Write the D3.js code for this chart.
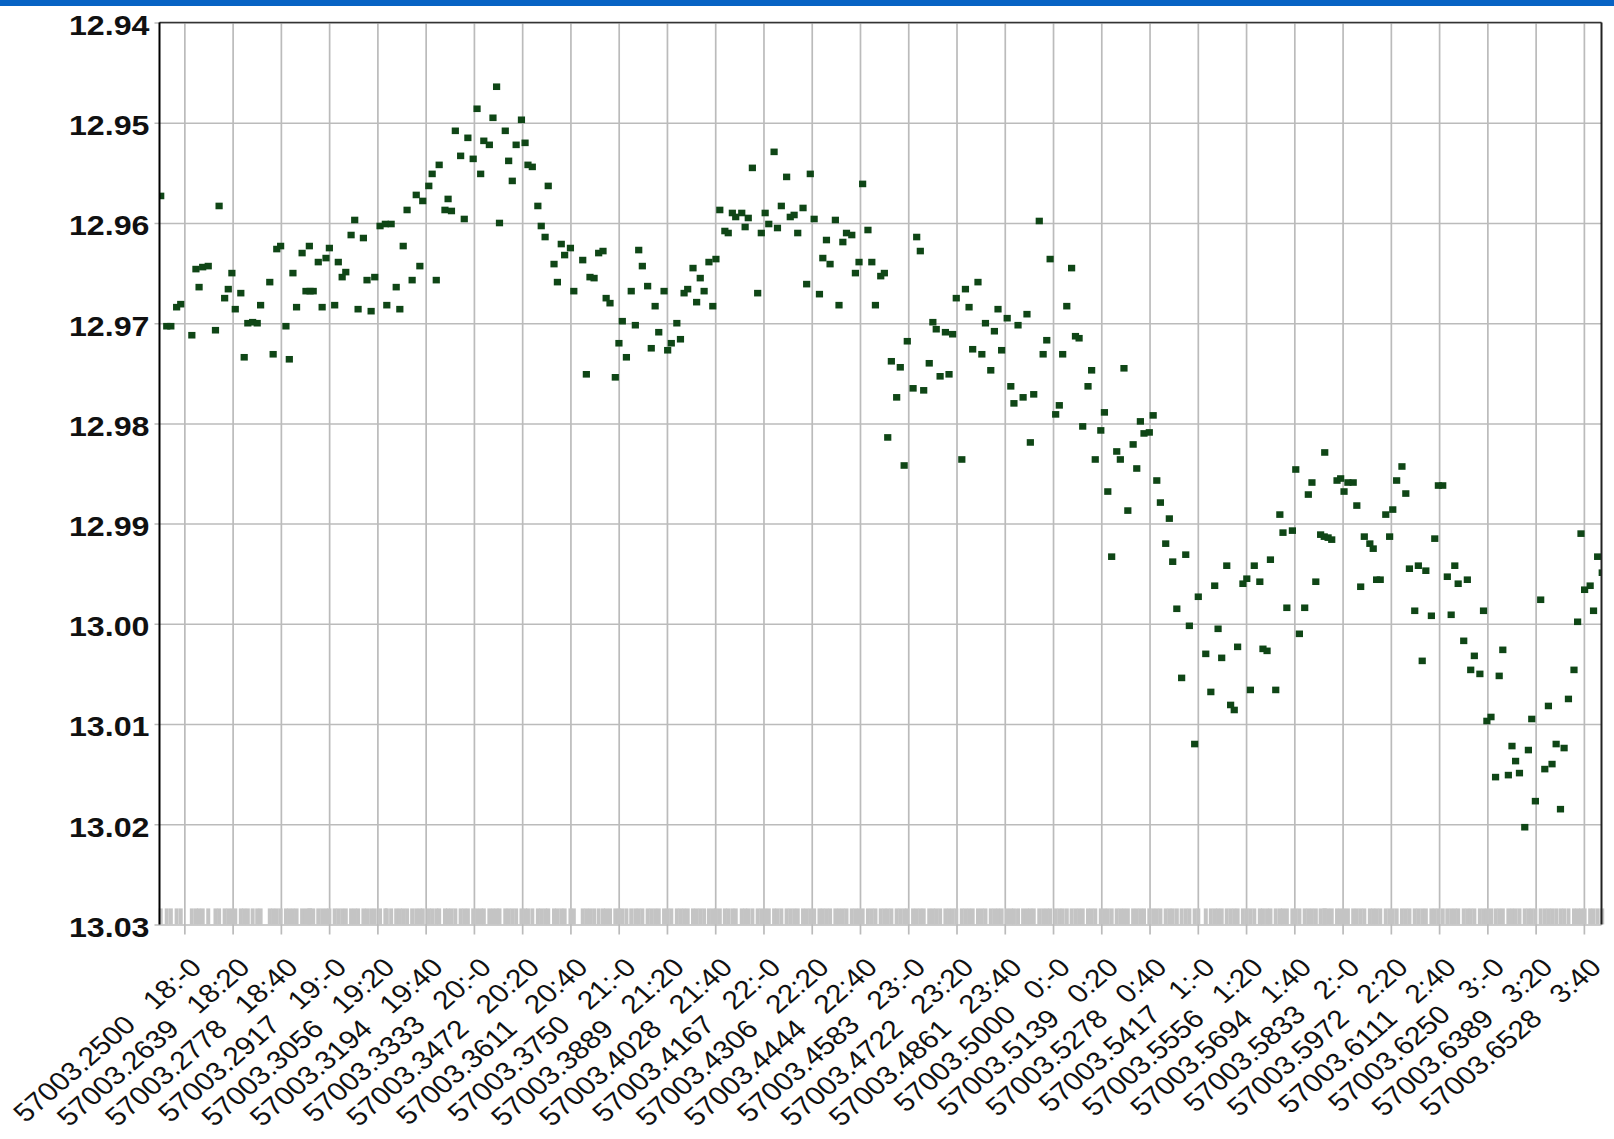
<!DOCTYPE html>
<html>
<head>
<meta charset="utf-8">
<script src="https://d3js.org/d3.v7.min.js"></script>
<style>
  html, body { margin: 0; padding: 0; background: #fff; }
  svg { display: block; }
  text { font-family: "Liberation Sans", Arial, sans-serif; fill: #111; }
</style>
</head>
<body>
<svg id="chart" width="1614" height="1139"></svg>
<script>
// time in minutes after 18:00 (MJD 57003.2500)
var tMin = [
  -9.8,-7.3,-5.6,-3.2,-1.5,3.1,4.8,6.1,7.6,9.9,
  12.9,14.4,16.7,18.2,19.7,21.1,23.4,24.8,26.3,28.3,
  30.2,31.6,35.4,36.8,38.3,39.9,42.1,43.5,45.0,46.5,
  48.8,50.4,51.8,52.1,53.4,55.5,57.1,58.7,60.1,62.3,
  63.8,65.4,66.9,69.1,70.6,72.0,74.2,75.7,77.4,78.9,
  81.1,83.3,83.9,85.7,87.8,89.3,90.7,92.3,94.4,96.1,
  97.6,98.8,101.3,102.7,104.4,105.6,108.0,109.3,110.7,112.3,
  114.5,116.0,117.5,119.7,121.3,122.8,124.1,126.4,127.9,129.4,
  130.6,133.0,134.4,135.9,137.5,139.7,141.2,142.4,144.2,146.5,
  147.9,149.5,150.8,153.2,154.6,156.2,157.6,160.0,161.4,165.1,
  166.6,168.1,169.8,171.7,173.5,174.8,176.4,178.6,180.1,181.5,
  183.2,185.2,186.9,188.3,189.8,192.0,193.5,195.1,196.6,198.8,
  200.3,201.8,204.1,205.6,207.1,208.6,210.8,212.3,213.8,215.4,
  217.4,219.0,220.3,221.9,224.0,225.4,227.1,228.5,231.0,232.4,
  233.7,235.4,237.6,239.1,240.7,242.2,244.4,245.8,247.4,249.6,
  251.1,252.7,254.2,256.4,257.9,259.4,261.0,263.2,264.6,266.1,
  267.6,269.8,271.3,272.9,274.4,276.6,278.1,279.6,281.1,283.3,
  284.9,286.4,288.6,290.1,291.5,293.0,295.2,296.7,298.3,299.6,
  302.0,303.5,305.0,306.4,308.7,310.2,311.6,313.2,315.4,316.9,
  318.4,319.9,322.2,323.7,325.2,326.7,328.9,330.5,332.0,334.2,
  335.7,337.2,338.7,341.0,342.5,343.8,345.5,347.6,349.2,350.6,
  352.0,354.3,355.9,357.4,358.8,361.1,362.6,364.0,365.7,367.7,
  369.3,370.8,372.3,374.5,376.0,377.5,379.8,381.3,382.7,384.3,
  386.4,387.9,389.4,391.0,393.2,394.7,396.2,397.7,399.9,401.5,
  403.0,404.5,406.7,408.2,409.6,411.3,413.3,415.0,416.5,418.7,
  420.2,423.3,425.4,427.0,428.4,429.9,432.0,433.6,435.1,436.5,
  438.7,440.3,441.8,443.4,445.7,447.0,448.7,450.1,452.3,454.0,
  455.3,456.9,459.2,460.6,462.1,464.3,465.8,467.3,468.9,470.9,
  472.4,472.6,474.0,475.5,477.7,479.2,480.6,482.2,484.4,485.9,
  487.5,489.0,491.3,492.7,494.1,495.6,497.9,499.5,500.8,502.4,
  504.6,506.2,507.7,509.9,511.4,513.0,514.5,516.8,518.2,519.7,
  521.5,523.4,525.0,526.5,527.9,530.2,531.7,533.1,534.6,536.9,
  538.4,539.8,541.5,543.4,544.9,546.4,548.7,550.2,551.7,553.3,
  555.5,557.0,558.4,559.9,562.1,563.8,565.3,566.8,568.5,570.3,
  571.8,573.6,575.9,577.4,578.8,580.3,582.6,584.0,585.7,587.6
];

// magnitudes
var mag = [
  12.9573,12.9703,12.9703,12.9684,12.9681,12.9712,12.9646,12.9664,12.9644,12.9643,
  12.9707,12.9583,12.9675,12.9666,12.9650,12.9686,12.9670,12.9734,12.9700,12.9699,
  12.9700,12.9682,12.9659,12.9731,12.9626,12.9623,12.9703,12.9736,12.9650,12.9684,
  12.9630,12.9668,12.9623,12.9668,12.9668,12.9639,12.9684,12.9635,12.9625,12.9682,
  12.9639,12.9654,12.9649,12.9612,12.9597,12.9686,12.9615,12.9657,12.9688,12.9654,
  12.9603,12.9601,12.9682,12.9601,12.9664,12.9686,12.9623,12.9587,12.9657,12.9572,
  12.9643,12.9578,12.9563,12.9551,12.9657,12.9542,12.9587,12.9576,12.9588,12.9508,
  12.9533,12.9596,12.9515,12.9536,12.9486,12.9551,12.9518,12.9522,12.9495,12.9464,
  12.9600,12.9508,12.9538,12.9558,12.9522,12.9497,12.9520,12.9542,12.9544,12.9583,
  12.9603,12.9614,12.9563,12.9641,12.9659,12.9621,12.9632,12.9625,12.9668,12.9637,
  12.9751,12.9654,12.9655,12.9630,12.9628,12.9675,12.9680,12.9754,12.9720,12.9698,
  12.9734,12.9668,12.9702,12.9627,12.9643,12.9663,12.9725,12.9683,12.9709,12.9668,
  12.9727,12.9720,12.9700,12.9716,12.9670,12.9666,12.9645,12.9679,12.9655,12.9668,
  12.9639,12.9683,12.9636,12.9587,12.9608,12.9610,12.9590,12.9594,12.9590,12.9604,
  12.9595,12.9545,12.9670,12.9610,12.9590,12.9601,12.9529,12.9605,12.9583,12.9554,
  12.9594,12.9592,12.9610,12.9585,12.9661,12.9551,12.9596,12.9671,12.9635,12.9617,
  12.9641,12.9597,12.9682,12.9619,12.9610,12.9612,12.9650,12.9639,12.9561,12.9607,
  12.9639,12.9682,12.9653,12.9650,12.9814,12.9738,12.9774,12.9744,12.9842,12.9718,
  12.9765,12.9614,12.9628,12.9767,12.9740,12.9699,12.9706,12.9753,12.9709,12.9751,
  12.9711,12.9675,12.9836,12.9666,12.9684,12.9726,12.9659,12.9731,12.9700,12.9747,
  12.9708,12.9686,12.9727,12.9695,12.9763,12.9780,12.9702,12.9774,12.9691,12.9819,
  12.9771,12.9598,12.9731,12.9717,12.9636,12.9791,12.9782,12.9731,12.9683,12.9645,
  12.9713,12.9715,12.9803,12.9763,12.9747,12.9836,12.9807,12.9789,12.9868,12.9933,
  12.9828,12.9836,12.9745,12.9887,12.9821,12.9845,12.9798,12.9810,12.9809,12.9792,
  12.9857,12.9879,12.9920,12.9895,12.9938,12.9985,13.0054,12.9931,13.0002,13.0120,
  12.9973,13.0030,13.0068,12.9962,13.0005,13.0034,12.9942,13.0081,13.0086,13.0023,
  12.9960,12.9955,13.0066,12.9942,12.9958,13.0025,13.0027,12.9936,13.0066,12.9891,
  12.9909,12.9984,12.9907,12.9846,13.0010,12.9984,12.9871,12.9859,12.9958,12.9911,
  12.9913,12.9829,12.9914,12.9916,12.9857,12.9855,12.9868,12.9859,12.9859,12.9882,
  12.9963,12.9913,12.9920,12.9925,12.9956,12.9956,12.9891,12.9913,12.9886,12.9857,
  12.9843,12.9870,12.9945,12.9987,12.9942,13.0037,12.9947,12.9992,12.9915,12.9862,
  12.9862,12.9953,12.9991,12.9942,12.9960,13.0017,12.9956,13.0046,13.0032,13.0050,
  12.9987,13.0097,13.0093,13.0153,13.0052,13.0026,13.0151,13.0122,13.0137,13.0149,
  13.0203,13.0126,13.0095,13.0177,12.9976,13.0145,13.0082,13.0140,13.0120,13.0185,
  13.0124,13.0075,13.0046,12.9998,12.9910,12.9966,12.9962,12.9987,12.9933,12.9949
];

var tickMin = [0,20,40,60,80,100,120,140,160,180,200,220,240,260,280,300,320,340,360,380,400,420,440,460,480,500,520,540,560,580];
var mjdLabels = ["57003.2500","57003.2639","57003.2778","57003.2917","57003.3056","57003.3194","57003.3333","57003.3472","57003.3611","57003.3750",
  "57003.3889","57003.4028","57003.4167","57003.4306","57003.4444","57003.4583","57003.4722","57003.4861","57003.5000","57003.5139",
  "57003.5278","57003.5417","57003.5556","57003.5694","57003.5833","57003.5972","57003.6111","57003.6250","57003.6389","57003.6528"];
var timeLabels = ["18:-0","18:20","18:40","19:-0","19:20","19:40","20:-0","20:20","20:40","21:-0",
  "21:20","21:40","22:-0","22:20","22:40","23:-0","23:20","23:40","0:-0","0:20",
  "0:40","1:-0","1:20","1:40","2:-0","2:20","2:40","3:-0","3:20","3:40"];
var magTicks = [12.94,12.95,12.96,12.97,12.98,12.99,13.00,13.01,13.02,13.03];

var svg = d3.select("#chart");
var plotL = 159.5, plotR = 1601.5, plotT = 22.6, plotB = 924.4;
var stretch = 1.15; // source picture is a little wider than tall, text included

var x = d3.scaleLinear().domain([-10.3, 587.3]).range([plotL, plotR]);
var y = d3.scaleLinear().domain([12.94, 13.03]).range([plotT, plotB]);

var points = tMin.map(function(t, i) { return {t: t, m: mag[i]}; });

svg.append("rect").attr("width", 1614).attr("height", 1139).attr("fill", "#fff");
svg.append("rect").attr("width", 1614).attr("height", 6).attr("fill", "#0763c4");

// vertical grid + little ticks under the axis
var xAxis = d3.axisBottom(x).tickValues(tickMin).tickSize(plotB - plotT + 10).tickFormat("");
var gx = svg.append("g").attr("transform", "translate(0," + plotT + ")").call(xAxis);
gx.select(".domain").remove();
gx.selectAll("line").attr("stroke", "#bbbbbb").attr("stroke-width", 1.7);

// horizontal grid with labels
var yAxis = d3.axisLeft(y).tickValues(magTicks).tickSize(-(plotR - plotL + 5)).tickFormat(d3.format(".2f"));
var gy = svg.append("g").attr("transform", "translate(" + (plotL - 5) + ",0)").call(yAxis);
gy.select(".domain").remove();
gy.selectAll("line").attr("stroke", "#bbbbbb").attr("stroke-width", 1.5);
gy.selectAll("text")
  .attr("x", null).attr("dy", null)
  .attr("text-anchor", "end")
  .attr("transform", "translate(-5,11.8) scale(" + stretch + ",1)")
  .style("font-size", "28px").style("font-weight", "bold")
  .attr("fill", "#111");

// rug of observation times along the bottom
svg.append("g").selectAll("line").data(points).enter().append("line")
  .attr("x1", function(d) { return x(d.t); })
  .attr("x2", function(d) { return x(d.t); })
  .attr("y1", plotB - 16).attr("y2", plotB)
  .attr("stroke", "#c4c4c4").attr("stroke-width", 4);

svg.append("clipPath").attr("id", "plotclip").append("rect")
  .attr("x", plotL).attr("y", plotT).attr("width", plotR - plotL).attr("height", plotB - plotT);

svg.append("g").attr("clip-path", "url(#plotclip)")
  .selectAll("rect").data(points).enter().append("rect")
  .attr("x", function(d) { return x(d.t) - 3.6; })
  .attr("y", function(d) { return y(d.m) - 3.3; })
  .attr("width", 7.2).attr("height", 6.6)
  .attr("fill", "#0f4616");

// frame
svg.append("line").attr("x1", plotL).attr("x2", plotR).attr("y1", plotT).attr("y2", plotT)
  .attr("stroke", "#333").attr("stroke-width", 1.5);
svg.append("line").attr("x1", plotL).attr("x2", plotL).attr("y1", plotT).attr("y2", plotB)
  .attr("stroke", "#000").attr("stroke-width", 2);
svg.append("line").attr("x1", plotR).attr("x2", plotR).attr("y1", plotT).attr("y2", plotB)
  .attr("stroke", "#222").attr("stroke-width", 2);

// slanted x labels: MJD then local time
var lab = svg.append("g").selectAll("text").data(tickMin).enter().append("text")
  .attr("text-anchor", "end")
  .attr("transform", function(d) {
    return "translate(" + (x(d) + 19) + ",969) scale(" + stretch + ",1) rotate(-45)";
  })
  .style("font-size", "26px");
lab.append("tspan").text(function(d, i) { return mjdLabels[i]; });
lab.append("tspan").attr("dx", 22).text(function(d, i) { return timeLabels[i]; });
</script>
</body>
</html>
